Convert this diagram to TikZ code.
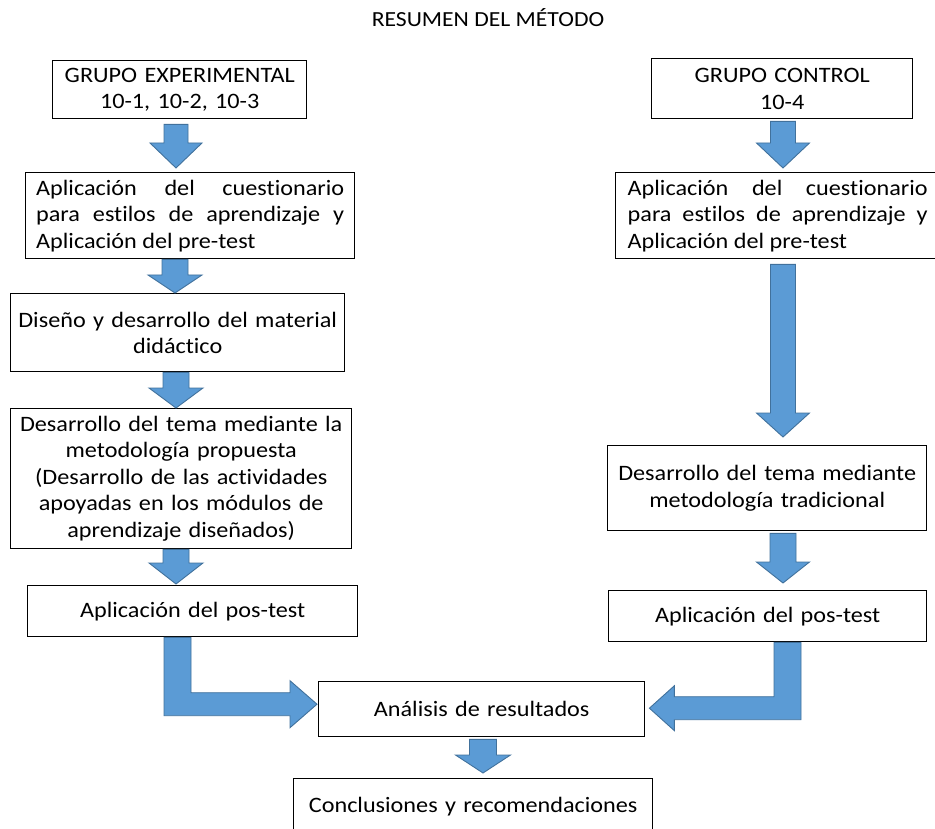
\documentclass[tikz,border=0pt]{standalone}
\usepackage{fontspec}
\setmainfont{Carlito}[FakeStretch=1.1,Ligatures=NoCommon]
\usetikzlibrary{calc}
\definecolor{arrowfill}{HTML}{5B9BD5}
\definecolor{arrowedge}{HTML}{41719C}
\tikzset{
  box/.style={draw=black, line width=1.4pt, rectangle, inner xsep=8pt, inner ysep=0pt,
    anchor=north west, font=\fontsize{22}{26.5}\selectfont,
    execute at begin node={\hyphenpenalty=10000 \exhyphenpenalty=10000 }},
  blk/.style={fill=arrowfill, draw=arrowedge, line width=0.9pt, line join=miter},
  titlestyle/.style={font=\fontsize{21.5}{24}\selectfont, inner sep=0pt},
}
% down block arrow: #1 x centre, #2 from node, #3 to node, #4 shaft half width,
% #5 head half width, #6 head length, #7 top gap, #8 tip gap
\newcommand\downblk[8]{%
  \path[blk] let \p1=(#2.south), \p2=(#3.north) in
    (#1pt-#4pt,\y1-#7pt) -- (#1pt+#4pt,\y1-#7pt) -- (#1pt+#4pt,\y2+#8pt+#6pt)
    -- (#1pt+#5pt,\y2+#8pt+#6pt) -- (#1pt,\y2+#8pt) -- (#1pt-#5pt,\y2+#8pt+#6pt)
    -- (#1pt-#4pt,\y2+#8pt+#6pt) -- cycle;}
\begin{document}
\begin{tikzpicture}[x=1pt,y=-1pt]
\useasboundingbox (0,0) rectangle (935,829);
\clip (0,0) rectangle (935,829);
\node[titlestyle] (title) at (488,18) {RESUMEN DEL MÉTODO};
% left column
\node[box, text width=238, minimum height=58, align=center] (e1) at (52,60) {GRUPO EXPERIMENTAL\\10-1, 10-2, 10-3};
\node[box, inner xsep=10.5pt, text width=308, minimum height=86, align=justify] (e2) at (25,172)
  {Aplicación del cuestionario\linebreak para estilos de aprendizaje y\linebreak Aplicación del pre-test};
\node[box, inner xsep=2pt, text width=330, minimum height=78, align=center] (e3) at (10,293) {Diseño y desarrollo del material\\didáctico};
\node[box, inner xsep=2pt, text width=337, minimum height=140, align=center] (e4) at (10,408)
  {Desarrollo del tema mediante la\\metodología propuesta\\(Desarrollo de las actividades\\apoyadas en los módulos de\\aprendizaje diseñados)};
\node[box, text width=314, minimum height=51, align=center] (e5) at (27,585) {Aplicación del pos-test};
% right column
\node[box, text width=245, minimum height=60, align=center] (c1) at (651,58) {GRUPO CONTROL\\10-4};
\node[box, inner xsep=12pt, text width=300, minimum height=86, align=justify] (c2) at (615,172)
  {Aplicación del cuestionario\linebreak para estilos de aprendizaje y\linebreak Aplicación del pre-test};
\node[box, text width=303, minimum height=85, align=center] (c3) at (607,445) {Desarrollo del tema mediante\\metodología tradicional};
\node[box, text width=302, minimum height=51, align=center] (c4) at (608,590) {Aplicación del pos-test};
% centre
\node[box, text width=310, minimum height=55, align=center] (an) at (318,681) {Análisis de resultados};
\node[box, text width=343, minimum height=55, align=center] (co) at (293,778) {Conclusiones y recomendaciones};
% arrows
\downblk{176}{e1}{e2}{12}{26}{25}{5}{4}
\downblk{175}{e2}{e3}{13}{27}{18}{0}{0}
\downblk{176}{e3}{e4}{13}{27}{20}{0}{0}
\downblk{176}{e4}{e5}{13}{27}{21}{0}{1}
\downblk{783}{c1}{c2}{12.5}{26.5}{25}{2}{4}
\downblk{783}{c2}{c3}{12.5}{26.5}{24}{5}{8}
\downblk{783}{c3}{c4}{13}{26.5}{21}{2}{7}
\downblk{483}{an}{co}{13.5}{27.5}{18}{2}{5}
% L arrows
\path[blk] let \p1=(e5.south), \p2=(an.west) in
  (164pt,\y1) -- (191pt,\y1) -- (191pt,\y2+16.5pt) -- (\x2-28pt,\y2+16.5pt)
  -- (\x2-28pt,\y2+28.5pt) -- (\x2-1pt,\y2+5pt) -- (\x2-28pt,\y2-18.5pt)
  -- (\x2-28pt,\y2-6.5pt) -- (164pt,\y2-6.5pt) -- cycle;
\path[blk] let \p1=(c4.south), \p2=(an.east) in
  (801pt,\y1) -- (774pt,\y1) -- (774pt,\y2+12.5pt) -- (\x2+29pt,\y2+12.5pt)
  -- (\x2+29pt,\y2+23.5pt) -- (\x2+4pt,\y2+1pt) -- (\x2+29pt,\y2-21.5pt)
  -- (\x2+29pt,\y2-10.5pt) -- (801pt,\y2-10.5pt) -- cycle;
\end{tikzpicture}
\end{document}
